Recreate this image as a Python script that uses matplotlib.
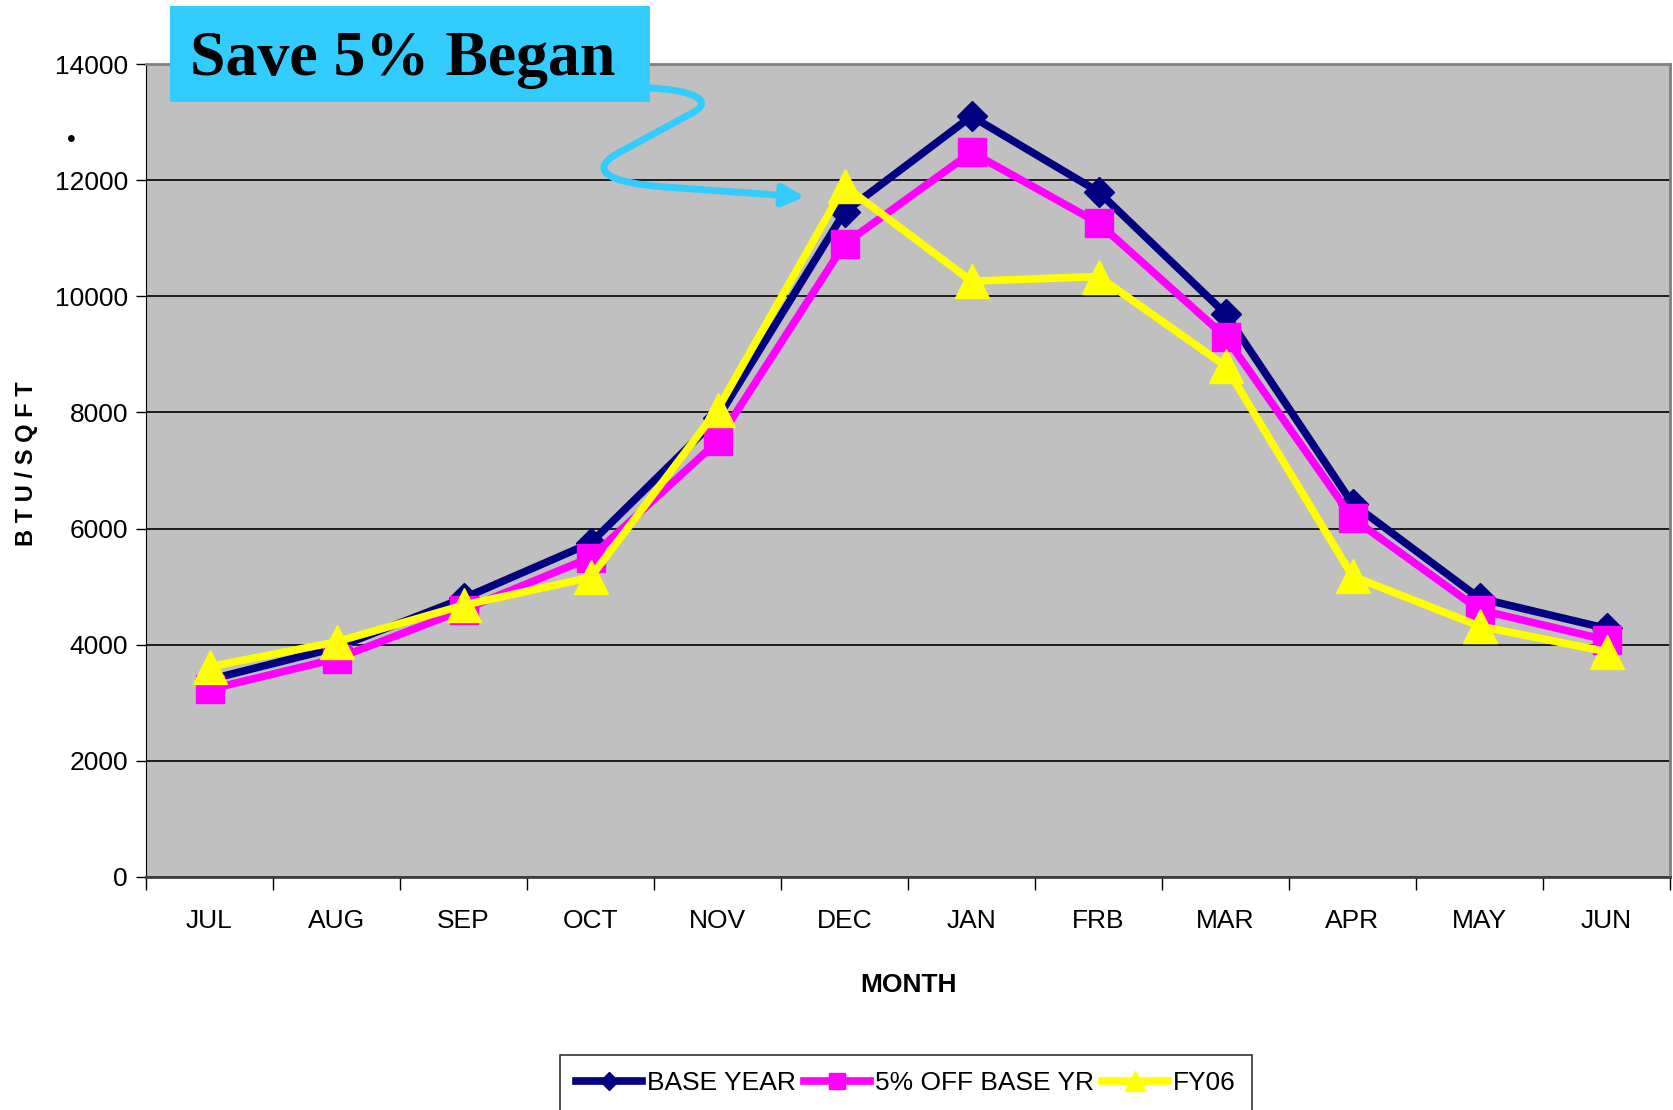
import matplotlib
matplotlib.use("Agg")
import matplotlib.pyplot as plt
from matplotlib.patches import Rectangle, FancyArrowPatch
from matplotlib.path import Path

months = ["JUL", "AUG", "SEP", "OCT", "NOV", "DEC", "JAN", "FRB", "MAR", "APR", "MAY", "JUN"]
base_year = [3400, 3950, 4800, 5750, 7900, 11450, 13100, 11800, 9700, 6430, 4800, 4280]
off5 = [3230, 3760, 4600, 5500, 7500, 10900, 12480, 11260, 9300, 6180, 4600, 4080]
fy06 = [3620, 4050, 4680, 5160, 8050, 11900, 10260, 10340, 8800, 5180, 4320, 3880]
yticks = [0, 2000, 4000, 6000, 8000, 10000, 12000, 14000]

W, H = 1673, 1110
plt.rcParams["font.family"] = ["Liberation Sans", "DejaVu Sans"]

fig = plt.figure(figsize=(W / 100, H / 100), dpi=100)
ax = fig.add_axes([146 / W, 1 - 877 / H, (1670 - 146) / W, (877 - 64) / H])
ax.set_facecolor("#C0C0C0")

x = list(range(len(months)))
ax.plot(x, base_year, color="#000080", lw=5.5, marker="D", ms=15, label="BASE YEAR", zorder=3)
ax.plot(x, off5, color="#FF00FF", lw=5.5, marker="s", ms=20, label="5% OFF BASE YR", zorder=4)
ax.plot(x, fy06, color="#FFFF00", lw=5.5, marker="^", ms=24, label="FY06", zorder=5)

ax.set_xlim(-0.5, len(months) - 0.5)
ax.set_ylim(0, 14000)
ax.set_yticks(yticks)
ax.set_yticklabels([str(v) for v in yticks], fontsize=19)
ax.yaxis.grid(True, color="black", lw=1.2)
ax.set_axisbelow(True)

ax.set_xticks(x)
ax.set_xticklabels(months, fontsize=19)
ax.tick_params(axis="x", which="major", length=0, pad=23)
ax.set_xticks([i - 0.5 for i in range(len(months) + 1)], minor=True)
ax.tick_params(axis="x", which="minor", length=9, width=1, color="black")
ax.tick_params(axis="y", length=7, width=1, pad=6)
ax.set_xlabel("MONTH", fontsize=19, fontweight="bold", labelpad=29)

for s in ["top", "right"]:
    ax.spines[s].set_color("#808080")
    ax.spines[s].set_linewidth(2)
ax.spines["left"].set_color("black")
ax.spines["bottom"].set_color("#404040")
ax.spines["bottom"].set_linewidth(2)

fig.text(27 / W, 1 - 464 / H, "B T U / S Q F T", rotation=90, fontsize=17,
         fontweight="bold", ha="center", va="center")
fig.text(71 / W, 1 - 140 / H, "\u2022", fontsize=18, ha="center", va="center")

# callout box
fig.patches.append(Rectangle((170 / W, 1 - 102 / H), 480 / W, 96 / H,
                             transform=fig.transFigure, facecolor="#33CCFF",
                             edgecolor="none", zorder=10))
fig.text(190 / W, 1 - 60 / H, "Save 5% Began", fontsize=46, fontweight="bold",
         family=["Liberation Serif", "DejaVu Serif"], ha="left", va="center", zorder=11)

pts = [(650, 88), (692, 90), (714, 100), (694, 112), (620, 152),
       (590, 168), (600, 182), (665, 187), (805, 197)]
verts = [(px / W, 1 - py / H) for px, py in pts]
codes = [Path.MOVETO, Path.CURVE4, Path.CURVE4, Path.CURVE4, Path.LINETO,
         Path.CURVE4, Path.CURVE4, Path.CURVE4, Path.LINETO]
arrow = FancyArrowPatch(path=Path(verts, codes), arrowstyle="-|>", mutation_scale=32,
                        color="#33CCFF", lw=5, transform=fig.transFigure, zorder=12)
fig.patches.append(arrow)

leg = fig.legend(loc="upper center", bbox_to_anchor=(906 / W, 1 - 1042 / H), ncol=3,
                 fontsize=19, frameon=True, fancybox=False, edgecolor="black",
                 handlelength=2.5, columnspacing=0.3, handletextpad=0.2,
                 borderpad=0.6, markerscale=0.6)
leg.get_frame().set_linewidth(1.2)

fig.savefig("out.png", dpi=100)
